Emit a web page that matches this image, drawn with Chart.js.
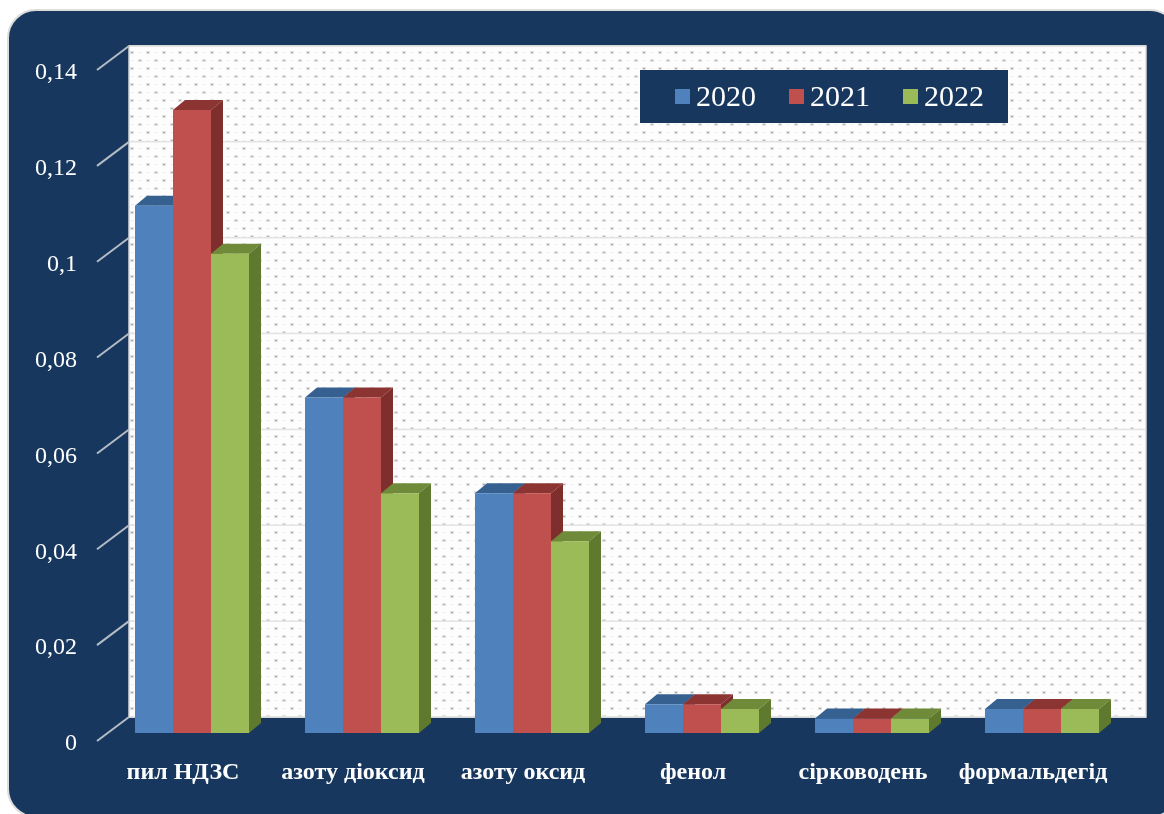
<!DOCTYPE html>
<html>
<head>
<meta charset="utf-8">
<title>Chart</title>
<style>html,body{margin:0;padding:0;background:#fff;overflow:hidden}canvas{display:block}</style>
<script src="https://cdn.jsdelivr.net/npm/chart.js@4/dist/chart.umd.min.js"></script>
</head>
<body>
<canvas id="c" width="1164" height="814"></canvas>
<script>
const categories = ['пил НДЗС', 'азоту діоксид', 'азоту оксид', 'фенол', 'сірководень', 'формальдегід'];
const seriesNames = ['2020', '2021', '2022'];
const values2020 = [0.11, 0.07, 0.05, 0.006, 0.003, 0.005];
const values2021 = [0.13, 0.07, 0.05, 0.006, 0.003, 0.005];
const values2022 = [0.10, 0.05, 0.04, 0.005, 0.003, 0.005];
const yTickLabels = ['0', '0,02', '0,04', '0,06', '0,08', '0,1', '0,12', '0,14'];

const frontColors = ['#4f81bd', '#c0504d', '#9bbb59'];
const topColors = ['#35608f', '#8c3432', '#6f8a38'];
const sideColors = ['#2f5583', '#7e2e2c', '#5f7a2e'];
const NAVY = '#17375e';
const SERIF = '"Liberation Serif", "Times New Roman", serif';
const DEPTH_X = 12, DEPTH_Y = 10;

function swatch(color) {
  const s = document.createElement('canvas');
  s.width = 19; s.height = 19;
  const g = s.getContext('2d');
  g.fillStyle = color; g.fillRect(4, 0, 15, 15);
  return s;
}
const swatches = frontColors.map(swatch);

function dotPattern(ctx) {
  const t = document.createElement('canvas');
  t.width = 16; t.height = 16;
  const g = t.getContext('2d');
  g.fillStyle = '#fdfdfd'; g.fillRect(0, 0, 16, 16);
  [[4, 4, '#a4a4a4'], [12, 12, '#b4b4b4']].forEach(([x, y, col]) => {
    g.fillStyle = '#e2e2e2'; g.fillRect(x - 2, y - 1, 4, 3);
    g.fillStyle = col; g.fillRect(x - 1, y, 2, 1);
  });
  [[4, 12], [12, 4]].forEach(([x, y]) => {
    g.fillStyle = '#ebebeb'; g.fillRect(x - 1, y, 3, 1);
  });
  return ctx.createPattern(t, 'repeat');
}

const backdrop = {
  id: 'backdrop',
  afterLayout(chart) {
    const l = chart.legend;
    l.left = 642; l.right = 1164; l.top = 45.5; l.bottom = 140;
  },
  beforeDraw(chart) {
    const ctx = chart.ctx, xs = chart.scales.x, ys = chart.scales.y;
    const wallL = xs.left + 22, wallR = xs.right + 19;
    const wallT = ys.getPixelForValue(0.14) - 16, wallB = ys.getPixelForValue(0) - 16;
    ctx.save();
    ctx.fillStyle = '#ffffff'; ctx.fillRect(0, 0, 1164, 814);
    ctx.beginPath(); ctx.roundRect(8, 10, 1170, 807, 28);
    ctx.fillStyle = NAVY; ctx.fill();
    ctx.strokeStyle = '#dcdcdc'; ctx.lineWidth = 2; ctx.stroke();

    ctx.fillStyle = dotPattern(ctx);
    ctx.fillRect(wallL, wallT, wallR - wallL, wallB - wallT);
    ctx.strokeStyle = '#d8d8d8'; ctx.lineWidth = 1.5;
    ctx.strokeRect(wallL, wallT, wallR - wallL, wallB - wallT);

    ys.ticks.forEach(t => {
      const py = ys.getPixelForValue(t.value);
      ctx.strokeStyle = '#e4e4e4'; ctx.lineWidth = 1.5;
      ctx.beginPath(); ctx.moveTo(wallL, py - 16); ctx.lineTo(wallR, py - 16); ctx.stroke();
      ctx.strokeStyle = '#b4bcc6'; ctx.lineWidth = 2;
      ctx.beginPath(); ctx.moveTo(xs.left - 10, py + 8); ctx.lineTo(wallL, py - 16); ctx.stroke();
    });

    ctx.fillStyle = NAVY;
    ctx.fillRect(640, 70, 368, 53);
    ctx.restore();
  },
  beforeDatasetsDraw(chart) {
    const ctx = chart.ctx;
    ctx.save();
    categories.forEach((_, i) => {
      chart.data.datasets.forEach((ds, d) => {
        const b = chart.getDatasetMeta(d).data[i];
        const x1 = b.x - b.width / 2, x2 = b.x + b.width / 2;
        ctx.fillStyle = topColors[d];
        ctx.beginPath();
        ctx.moveTo(x1, b.y); ctx.lineTo(x1 + DEPTH_X, b.y - DEPTH_Y);
        ctx.lineTo(x2 + DEPTH_X, b.y - DEPTH_Y); ctx.lineTo(x2, b.y);
        ctx.closePath(); ctx.fill();
        ctx.fillStyle = sideColors[d];
        ctx.beginPath();
        ctx.moveTo(x2, b.y); ctx.lineTo(x2 + DEPTH_X, b.y - DEPTH_Y);
        ctx.lineTo(x2 + DEPTH_X, b.base - DEPTH_Y); ctx.lineTo(x2, b.base);
        ctx.closePath(); ctx.fill();
      });
    });
    ctx.restore();
  }
};

new Chart(document.getElementById('c'), {
  type: 'bar',
  data: {
    labels: categories,
    datasets: [values2020, values2021, values2022].map((v, i) => ({
      label: seriesNames[i],
      data: v,
      backgroundColor: frontColors[i],
      borderWidth: 0,
      categoryPercentage: 114 / 170,
      barPercentage: 1
    }))
  },
  options: {
    responsive: false,
    animation: false,
    layout: { padding: { top: 22, right: 37, left: 0, bottom: 0 } },
    scales: {
      x: {
        afterFit(s) { s.height = 81; },
        grid: { display: false, drawTicks: false },
        border: { display: false },
        ticks: {
          color: '#ffffff',
          font: { family: SERIF, size: 24, weight: 'bold' },
          padding: 25, labelOffset: -9,
          maxRotation: 0, minRotation: 0, autoSkip: false
        }
      },
      y: {
        min: 0, max: 0.14,
        afterFit(s) { s.width = 107; },
        grid: { display: false, drawTicks: false },
        border: { display: false },
        ticks: {
          stepSize: 0.02,
          color: '#ffffff',
          font: { family: SERIF, size: 24 },
          padding: 30, labelOffset: 11, autoSkip: false,
          callback(v, i) { return yTickLabels[i]; }
        }
      }
    },
    plugins: {
      tooltip: { enabled: false },
      legend: {
        position: 'top',
        align: 'start',
        fullSize: false,
        maxHeight: 40,
        labels: {
          color: '#ffffff',
          font: { family: SERIF, size: 30 },
          usePointStyle: true,
          pointStyleWidth: 1,
          boxHeight: 15,
          padding: 38,
          generateLabels(chart) {
            return Chart.defaults.plugins.legend.labels.generateLabels(chart)
              .map((it, i) => Object.assign(it, { pointStyle: swatches[i] }));
          }
        }
      }
    }
  },
  plugins: [backdrop]
});
</script>
</body>
</html>
